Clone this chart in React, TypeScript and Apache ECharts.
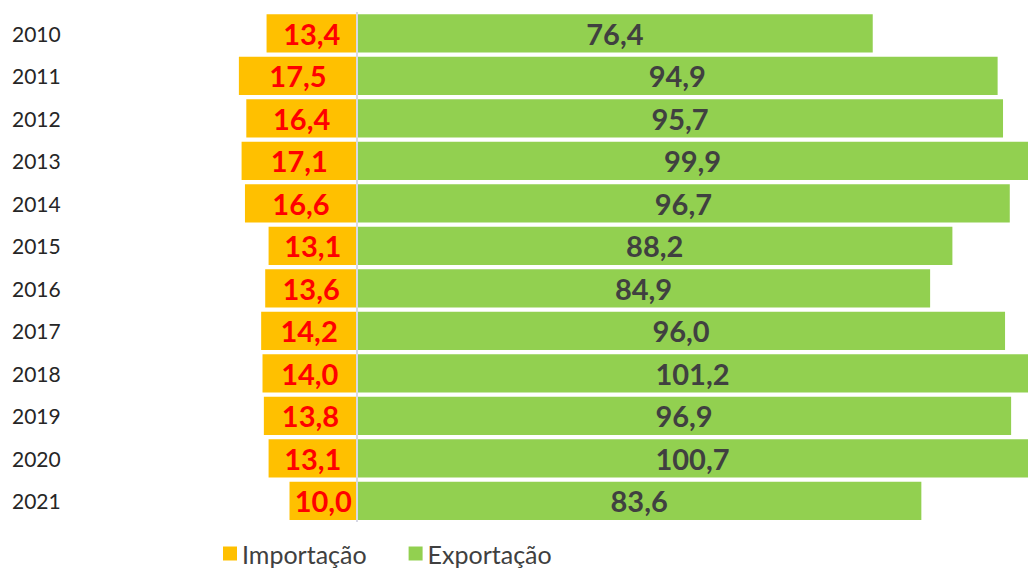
import React, { useEffect, useRef } from "react";
import * as echarts from "echarts";

const years = ["2010", "2011", "2012", "2013", "2014", "2015", "2016", "2017", "2018", "2019", "2020", "2021"];
const importacao = [13.4, 17.5, 16.4, 17.1, 16.6, 13.1, 13.6, 14.2, 14.0, 13.8, 13.1, 10.0];
const exportacao = [76.4, 94.9, 95.7, 99.9, 96.7, 88.2, 84.9, 96.0, 101.2, 96.9, 100.7, 83.6];

const fmt = (v: number) => Math.abs(v).toFixed(1).replace(".", ",");

export default function App() {
  const ref = useRef<HTMLDivElement>(null);
  useEffect(() => {
    if (!ref.current) return;
    const chart = echarts.init(ref.current, undefined, { renderer: "svg" });
    chart.setOption({
      animation: false,
      backgroundColor: "#ffffff",
      textStyle: { fontFamily: "Lato" },
      legend: {
        data: ["Importação", "Exportação"],
        left: 218,
        top: 536,
        itemWidth: 14,
        itemHeight: 14,
        itemGap: 42,
        icon: "rect",
        textStyle: { fontSize: 25, color: "#404040", fontFamily: "Lato" },
      },
      grid: { left: 87, right: 0, top: 12, bottom: 48, containLabel: false },
      xAxis: {
        type: "value",
        min: -40,
        max: 99.4,
        show: false,
      },
      yAxis: {
        type: "category",
        data: years,
        inverse: true,
        axisLine: { show: false },
        axisTick: { show: false },
        axisLabel: { align: "left", margin: 75, fontSize: 21, color: "#262626", fontFamily: "Lato" },
      },
      series: [
        {
          name: "Importação",
          type: "bar",
          stack: "t",
          data: importacao.map((v) => -v),
          barCategoryGap: "10%",
          itemStyle: { color: "#FFC000" },
          label: {
            show: true,
            position: "inside",
            formatter: (p: any) => fmt(p.value),
            color: "#FF0000",
            fontWeight: "bold",
            fontSize: 29,
            fontFamily: "Lato",
          },
        },
        {
          name: "Exportação",
          type: "bar",
          stack: "t",
          data: exportacao,
          barCategoryGap: "10%",
          clip: true,
          itemStyle: { color: "#92D050" },
          label: {
            show: true,
            position: "inside",
            formatter: (p: any) => fmt(p.value),
            color: "#404040",
            fontWeight: "bold",
            fontSize: 29,
            fontFamily: "Lato",
          },
          markLine: {
            silent: true,
            symbol: "none",
            label: { show: false },
            lineStyle: { color: "#D9D9E6", type: "solid", width: 2 },
            data: [{ xAxis: 0 }],
          },
        },
      ],
    });
    return () => chart.dispose();
  }, []);
  return <div ref={ref} style={{ position: "fixed", left: 0, top: 0, width: 1028, height: 570 }} />;
}
